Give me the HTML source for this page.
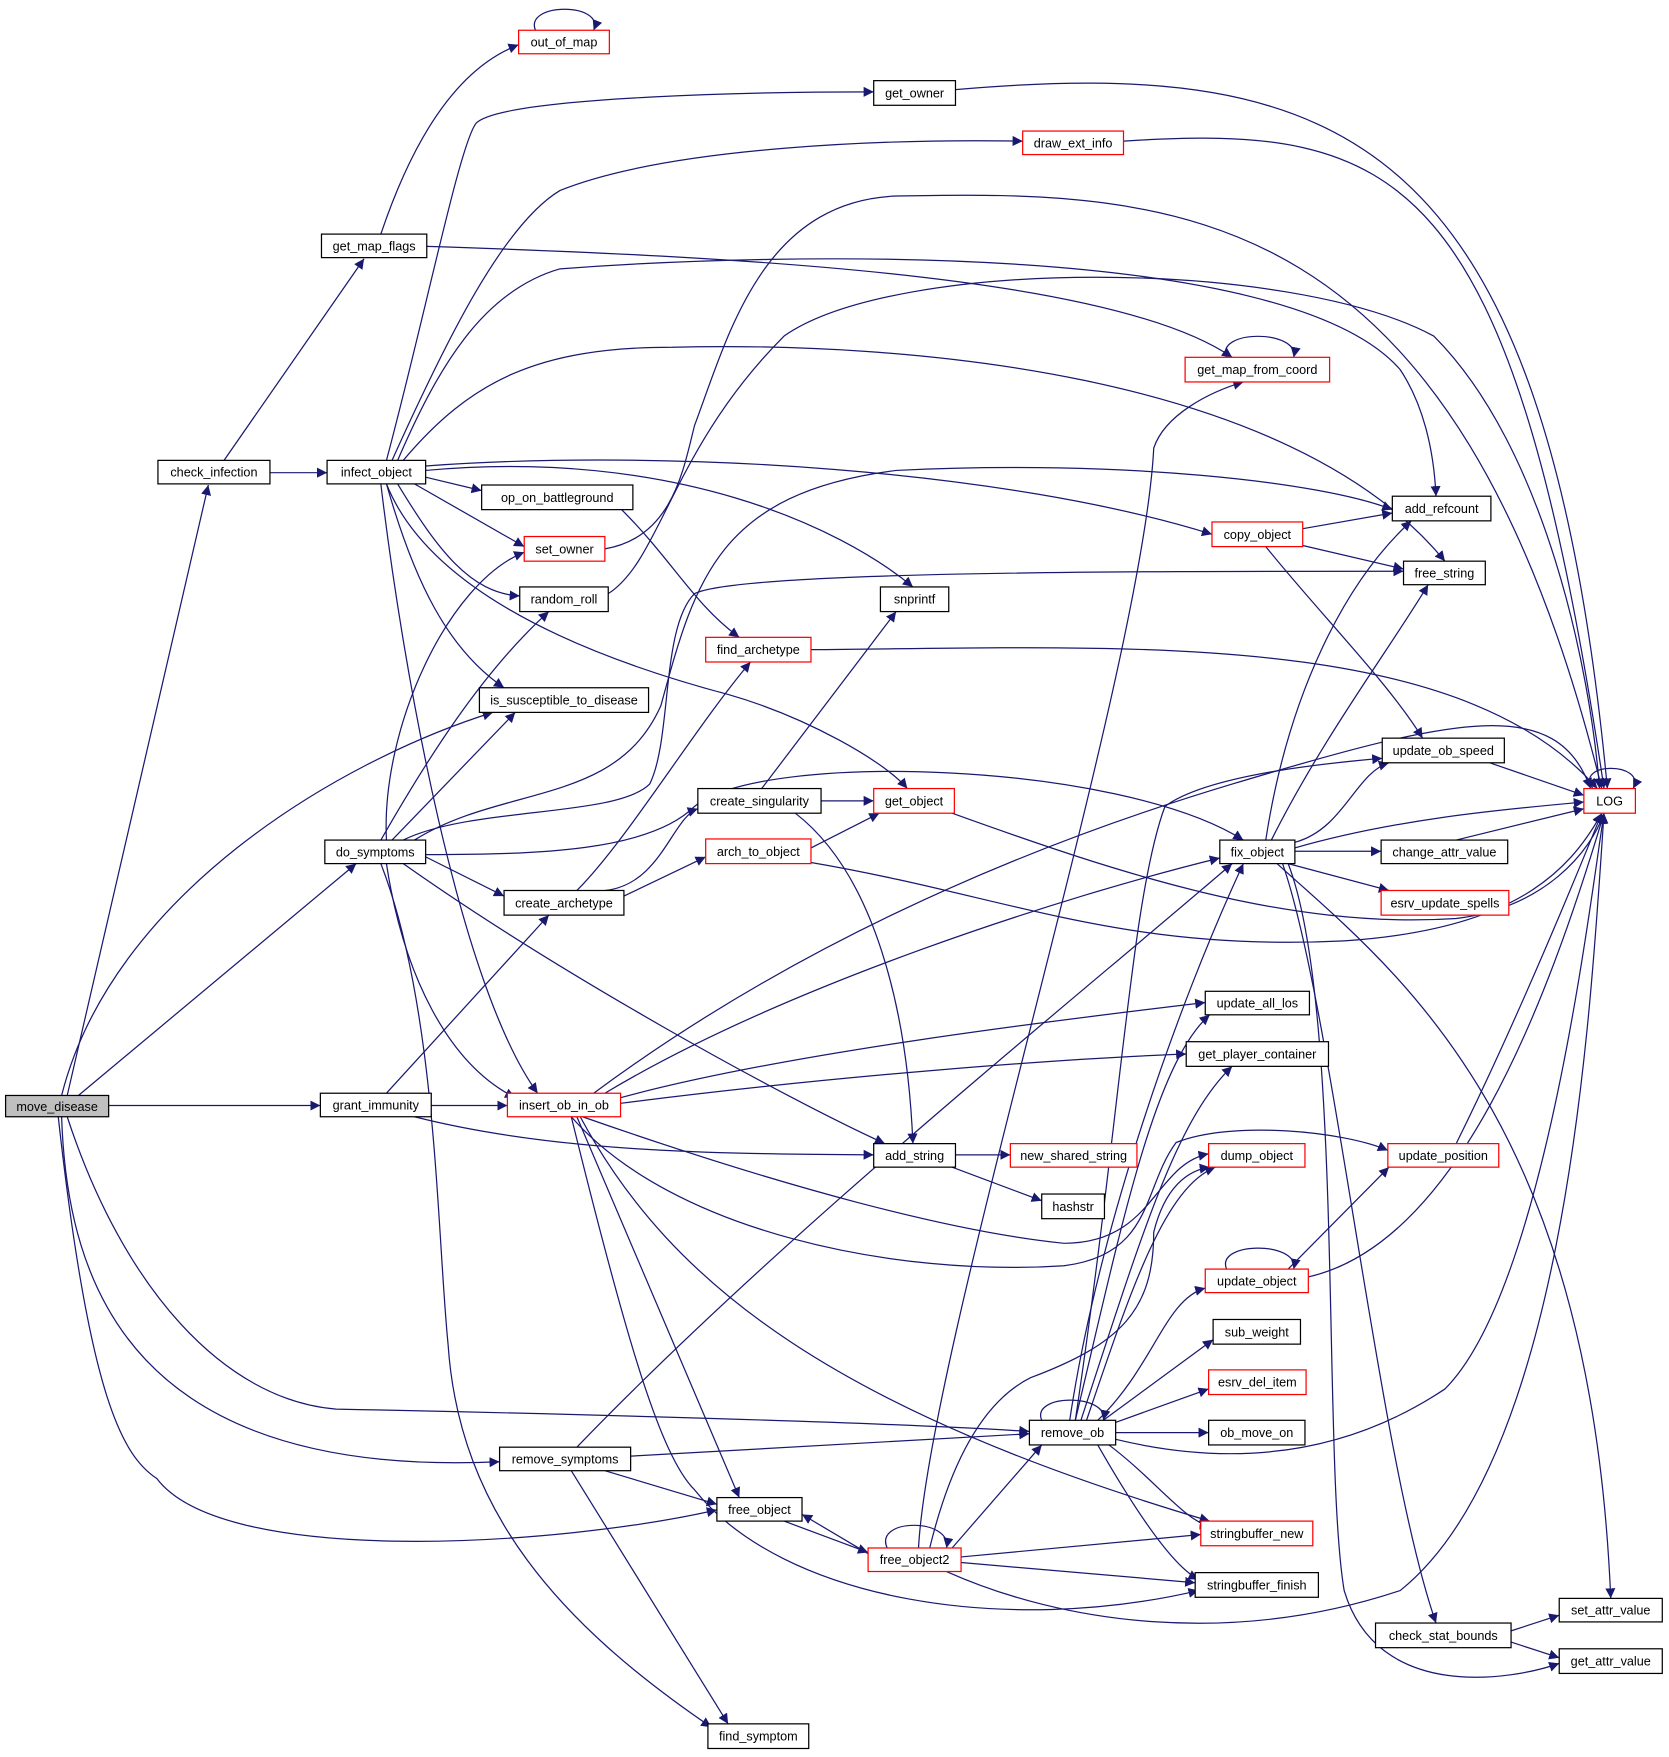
<!DOCTYPE html>
<html><head><meta charset="utf-8"><style>
html,body{margin:0;padding:0;background:#fff;}
svg{display:block}
text{font-family:"Liberation Sans",sans-serif;font-size:11.3px;text-anchor:middle;fill:#000}
.e{fill:none;stroke:#191970;stroke-width:1.1}
.n{fill:#fff;stroke:#000;stroke-width:1.1}
.r{fill:#fff;stroke:#f00;stroke-width:1.1}
</style></head><body>
<svg width="1669" height="1757" viewBox="0 0 1490 1568.6" preserveAspectRatio="none">
<defs><marker id="a" viewBox="0 0 10 10" refX="10" refY="5" markerWidth="9" markerHeight="9" markerUnits="userSpaceOnUse" orient="auto"><path d="M0,0 L10,5 L0,10 z" fill="#191970"/></marker></defs>
<g class="e" marker-end="url(#a)">
<path d="M60,978 L186,433"/>
<path d="M200,411 L325,231"/>
<path d="M241,422 L292,422"/>
<path d="M340,209 C370,120 410,60 463,40"/>
<path d="M381,220 C700,230 1000,250 1100,319"/>
<path d="M345,411 C380,280 410,130 425,110 C450,85 700,82 780,82"/>
<path d="M350,411 C400,300 450,200 500,170 C600,130 800,124 913,126"/>
<path d="M355,411 C390,330 430,260 500,240 C700,225 1150,215 1250,330 C1270,360 1280,400 1282,443"/>
<path d="M360,411 C420,340 480,310 600,310 C800,305 1150,330 1290,501"/>
<path d="M380,416 C600,400 900,420 1082,477"/>
<path d="M380,426 L430,438"/>
<path d="M380,420 C600,400 750,470 815,524"/>
<path d="M370,432 L468,488"/>
<path d="M355,432 C390,490 420,530 464,532"/>
<path d="M345,432 C370,520 400,580 450,614"/>
<path d="M345,432 C380,520 500,580 650,620 C720,640 790,680 810,704"/>
<path d="M340,432 C360,600 410,880 480,976"/>
<path d="M853,80 C1200,50 1380,120 1435,704"/>
<path d="M1003,126 C1250,110 1350,150 1432,704"/>
<path d="M540,490 C600,480 610,420 620,380 C650,300 680,180 800,175 C1050,170 1300,175 1430,704"/>
<path d="M543,530 C590,500 600,400 700,300 C800,230 1150,230 1280,300 C1380,400 1420,600 1428,704"/>
<path d="M724,580 C1000,578 1300,560 1426,704"/>
<path d="M555,455 C600,500 620,540 660,569"/>
<path d="M1163,472 L1243,458"/>
<path d="M1163,487 L1253,508"/>
<path d="M1130,488 C1180,550 1240,610 1270,659"/>
<path d="M1330,681 L1414,710"/>
<path d="M1422,704 C1405,680 1470,680 1458,704"/>
<path d="M1156,757 C1250,730 1350,722 1414,716"/>
<path d="M1300,750 L1414,722"/>
<path d="M1156,760 L1233,760"/>
<path d="M1150,771 L1240,795"/>
<path d="M1130,750 C1150,620 1200,520 1260,465"/>
<path d="M1135,750 C1180,660 1240,580 1275,522"/>
<path d="M1156,752 C1200,740 1210,690 1240,681"/>
<path d="M1140,771 C1250,870 1420,1000 1438,1427"/>
<path d="M1145,771 C1190,900 1230,1300 1282,1449"/>
<path d="M1150,771 C1200,900 1180,1300 1200,1420 C1230,1520 1350,1500 1392,1485"/>
<path d="M1349,1456 L1392,1442"/>
<path d="M1349,1466 L1392,1480"/>
<path d="M733,715 L780,715"/>
<path d="M680,704 L800,546"/>
<path d="M710,726 C780,780 810,900 815,1021"/>
<path d="M850,726 C1000,780 1150,830 1300,820 C1380,810 1420,760 1432,726"/>
<path d="M724,757 L785,726"/>
<path d="M724,770 C900,800 1000,850 1200,840 C1350,830 1400,780 1430,726"/>
<path d="M345,750 C340,650 400,520 468,493"/>
<path d="M340,750 C380,680 430,600 490,546"/>
<path d="M350,750 L460,636"/>
<path d="M360,750 C420,720 550,730 580,700 C600,660 590,560 620,530 C660,510 1000,510 1253,510"/>
<path d="M370,750 C450,700 550,720 590,630 C620,520 640,440 800,420 C1000,410 1180,430 1243,455"/>
<path d="M380,763 C480,763 580,760 620,720 C680,670 1000,680 1110,750"/>
<path d="M380,765 L450,800"/>
<path d="M360,771 C500,870 700,980 790,1021"/>
<path d="M345,771 C360,870 400,950 460,980"/>
<path d="M340,771 C390,900 390,1100 400,1200 C410,1350 500,1450 635,1542"/>
<path d="M55,978 C100,800 300,680 440,636"/>
<path d="M70,978 L318,771"/>
<path d="M97,987 L286,987"/>
<path d="M60,997 C110,1150 200,1250 300,1258 C500,1262 800,1270 919,1278"/>
<path d="M55,997 C60,1150 120,1320 446,1305"/>
<path d="M52,997 C80,1250 110,1300 140,1320 C200,1400 500,1380 640,1348"/>
<path d="M385,987 L453,987"/>
<path d="M345,976 L490,817"/>
<path d="M370,997 C500,1030 650,1030 780,1031"/>
<path d="M515,795 C560,750 620,650 670,591"/>
<path d="M540,795 C590,790 600,730 623,722"/>
<path d="M557,800 L630,765"/>
<path d="M530,976 C700,850 900,760 1100,700 C1300,640 1390,620 1420,704"/>
<path d="M540,976 C700,880 950,800 1089,766"/>
<path d="M554,980 C700,940 950,910 1076,895"/>
<path d="M554,985 C750,960 950,945 1059,941"/>
<path d="M520,997 C700,1060 850,1100 950,1110 C1030,1110 1030,1040 1079,1030"/>
<path d="M510,997 C600,1100 800,1140 950,1130 C1030,1120 1020,1060 1050,1020 C1100,1000 1200,1010 1239,1027"/>
<path d="M515,997 L660,1337"/>
<path d="M518,997 C600,1150 750,1260 1080,1358"/>
<path d="M510,997 C560,1200 590,1300 620,1330 C700,1430 900,1460 1070,1420"/>
<path d="M853,1031 L902,1031"/>
<path d="M850,1042 L930,1072"/>
<path d="M1150,1133 L1240,1042"/>
<path d="M1095,1133 C1085,1108 1160,1108 1155,1133"/>
<path d="M1168,1140 C1300,1110 1380,900 1432,726"/>
<path d="M1300,1021 C1350,920 1400,800 1430,726"/>
<path d="M930,1268 C920,1244 990,1244 985,1268"/>
<path d="M960,1268 C1000,1000 1010,800 1040,720 C1080,690 1200,680 1234,677"/>
<path d="M955,1268 C980,1100 1050,900 1110,771"/>
<path d="M965,1268 C1020,1100 1050,1000 1100,952"/>
<path d="M960,1268 C1000,1100 1030,950 1080,906"/>
<path d="M970,1268 C1010,1150 1040,1060 1085,1042"/>
<path d="M980,1268 C1030,1220 1040,1160 1076,1150"/>
<path d="M985,1268 L1083,1196"/>
<path d="M990,1272 L1079,1240"/>
<path d="M996,1279 L1079,1279"/>
<path d="M996,1285 C1100,1310 1200,1300 1290,1240 C1380,1150 1420,800 1432,726"/>
<path d="M990,1290 C1030,1320 1060,1360 1080,1362"/>
<path d="M980,1290 C1020,1360 1050,1400 1070,1410"/>
<path d="M563,1300 L919,1280"/>
<path d="M540,1313 L640,1343"/>
<path d="M515,1292 C700,1100 950,900 1100,771"/>
<path d="M510,1313 L650,1539"/>
<path d="M700,1358 L775,1386"/>
<path d="M780,1390 L716,1352"/>
<path d="M792,1382 C780,1355 850,1355 845,1382"/>
<path d="M850,1382 L930,1290"/>
<path d="M858,1390 L1072,1370"/>
<path d="M858,1395 L1067,1413"/>
<path d="M845,1403 C950,1450 1100,1470 1250,1420 C1400,1300 1420,900 1432,726"/>
<path d="M820,1382 C830,1200 1020,600 1030,400 C1040,370 1080,350 1110,341"/>
<path d="M830,1382 C850,1300 880,1250 920,1230 C1000,1200 1030,1170 1030,1100 C1040,1060 1060,1045 1080,1042"/>
<path d="M1095,319 C1085,294 1160,294 1155,319"/>
<path d="M478,27 C468,2 540,2 530,27"/>
</g>
<rect x="5" y="978" width="92" height="19" fill="#bfbfbf" stroke="#000" stroke-width="1.1"/><text x="51" y="992">move_disease</text>
<rect class="n" x="141" y="411" width="100" height="21"/><text x="191" y="425.5">check_infection</text>
<rect class="n" x="287" y="209" width="94" height="21"/><text x="334" y="223.5">get_map_flags</text>
<rect class="r" x="463" y="27" width="81" height="21"/><text x="503.5" y="41.5">out_of_map</text>
<rect class="n" x="780" y="72" width="73" height="22"/><text x="816.5" y="87">get_owner</text>
<rect class="r" x="913" y="117" width="90" height="21"/><text x="958" y="131.5">draw_ext_info</text>
<rect class="n" x="292" y="411" width="88" height="21"/><text x="336" y="425.5">infect_object</text>
<rect class="n" x="430" y="433" width="135" height="22"/><text x="497.5" y="448">op_on_battleground</text>
<rect class="r" x="468" y="479" width="72" height="22"/><text x="504" y="494">set_owner</text>
<rect class="n" x="464" y="524" width="79" height="22"/><text x="503.5" y="539">random_roll</text>
<rect class="n" x="428" y="614" width="151" height="22"/><text x="503.5" y="629">is_susceptible_to_disease</text>
<rect class="n" x="786" y="524" width="61" height="22"/><text x="816.5" y="539">snprintf</text>
<rect class="r" x="630" y="569" width="94" height="22"/><text x="677" y="584">find_archetype</text>
<rect class="r" x="1058" y="319" width="129" height="22"/><text x="1122.5" y="334">get_map_from_coord</text>
<rect class="n" x="1243" y="443" width="88" height="22"/><text x="1287" y="458">add_refcount</text>
<rect class="r" x="1082" y="466" width="81" height="22"/><text x="1122.5" y="481">copy_object</text>
<rect class="n" x="1253" y="501" width="73" height="21"/><text x="1289.5" y="515.5">free_string</text>
<rect class="n" x="1234" y="659" width="109" height="22"/><text x="1288.5" y="674">update_ob_speed</text>
<rect class="r" x="1414" y="704" width="46" height="22"/><text x="1437" y="719">LOG</text>
<rect class="n" x="623" y="704" width="110" height="22"/><text x="678" y="719">create_singularity</text>
<rect class="r" x="780" y="704" width="72" height="22"/><text x="816" y="719">get_object</text>
<rect class="r" x="630" y="749" width="94" height="22"/><text x="677" y="764">arch_to_object</text>
<rect class="n" x="1089" y="750" width="67" height="21"/><text x="1122.5" y="764.5">fix_object</text>
<rect class="n" x="1233" y="750" width="113" height="21"/><text x="1289.5" y="764.5">change_attr_value</text>
<rect class="r" x="1233" y="795" width="114" height="22"/><text x="1290" y="810">esrv_update_spells</text>
<rect class="n" x="290" y="750" width="90" height="21"/><text x="335" y="764.5">do_symptoms</text>
<rect class="n" x="450" y="795" width="107" height="22"/><text x="503.5" y="810">create_archetype</text>
<rect class="n" x="1076" y="885" width="93" height="21"/><text x="1122.5" y="899.5">update_all_los</text>
<rect class="n" x="1059" y="930" width="127" height="22"/><text x="1122.5" y="945">get_player_container</text>
<rect class="n" x="286" y="976" width="99" height="21"/><text x="335.5" y="990.5">grant_immunity</text>
<rect class="r" x="453" y="976" width="101" height="21"/><text x="503.5" y="990.5">insert_ob_in_ob</text>
<rect class="n" x="780" y="1021" width="73" height="21"/><text x="816.5" y="1035.5">add_string</text>
<rect class="r" x="902" y="1021" width="113" height="21"/><text x="958.5" y="1035.5">new_shared_string</text>
<rect class="n" x="930" y="1066" width="56" height="22"/><text x="958" y="1081">hashstr</text>
<rect class="r" x="1079" y="1021" width="86" height="21"/><text x="1122" y="1035.5">dump_object</text>
<rect class="r" x="1239" y="1021" width="99" height="21"/><text x="1288.5" y="1035.5">update_position</text>
<rect class="r" x="1076" y="1133" width="92" height="21"/><text x="1122" y="1147.5">update_object</text>
<rect class="n" x="1083" y="1178" width="78" height="22"/><text x="1122" y="1193">sub_weight</text>
<rect class="r" x="1079" y="1223" width="87" height="22"/><text x="1122.5" y="1238">esrv_del_item</text>
<rect class="n" x="919" y="1268" width="77" height="22"/><text x="957.5" y="1283">remove_ob</text>
<rect class="n" x="1079" y="1268" width="86" height="22"/><text x="1122" y="1283">ob_move_on</text>
<rect class="n" x="446" y="1292" width="117" height="21"/><text x="504.5" y="1306.5">remove_symptoms</text>
<rect class="n" x="640" y="1337" width="76" height="21"/><text x="678" y="1351.5">free_object</text>
<rect class="r" x="775" y="1382" width="83" height="21"/><text x="816.5" y="1396.5">free_object2</text>
<rect class="r" x="1072" y="1358" width="100" height="22"/><text x="1122" y="1373">stringbuffer_new</text>
<rect class="n" x="1067" y="1404" width="110" height="22"/><text x="1122" y="1419">stringbuffer_finish</text>
<rect class="n" x="1228" y="1449" width="121" height="22"/><text x="1288.5" y="1464">check_stat_bounds</text>
<rect class="n" x="1392" y="1427" width="92" height="21"/><text x="1438" y="1441.5">set_attr_value</text>
<rect class="n" x="1392" y="1472" width="92" height="22"/><text x="1438" y="1487">get_attr_value</text>
<rect class="n" x="632" y="1539" width="90" height="22"/><text x="677" y="1554">find_symptom</text>
</svg>
</body></html>
